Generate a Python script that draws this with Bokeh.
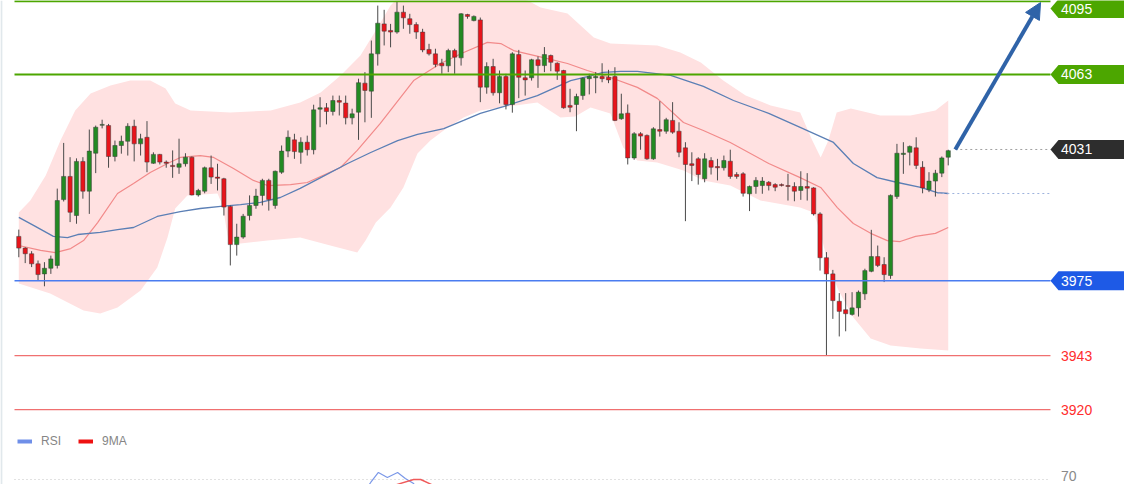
from bokeh.plotting import figure
from bokeh.models import Range1d, Legend, LegendItem, Arrow, NormalHead, Span
from bokeh.core.properties import value
from bokeh.embed import file_html
from bokeh.resources import INLINE

# ---------------- candle data (price) ----------------
opens = [3993.9, 3988.9, 3986.5, 3982.2, 3977.9, 3980.3, 3981.5, 4009.6, 4019.5, 4002.8,
         4025.9, 4013.2, 4029.4, 4041.3, 4041.2, 4028.0, 4032.7, 4034.5, 4040.9, 4033.4,
         4036.2, 4025.1, 4028.9, 4025.6, 4024.2, 4023.4, 4024.9, 4027.7, 4011.6, 4013.2,
         4023.2, 4019.2, 4018.5, 4006.7, 3990.4, 3993.6, 4002.8, 4007.1, 4011.4, 4017.8,
         4007.1, 4021.3, 4030.3, 4035.1, 4029.8, 4034.1, 4030.9, 4048.2, 4048.8, 4047.2,
         4051.9, 4050.8, 4044.5, 4046.9, 4059.3, 4055.9, 4071.8, 4084.6, 4081.8, 4081.1,
         4089.6, 4086.8, 4084.3, 4081.1, 4073.7, 4071.8, 4067.8, 4066.7, 4073.2, 4070.1,
         4088.6, 4086.0, 4086.3, 4057.6, 4066.4, 4055.2, 4062.1, 4050.2, 4071.5, 4061.6,
         4061.6, 4069.3, 4066.8, 4071.1, 4067.8, 4064.7, 4049.8, 4050.2, 4054.0, 4061.2,
         4061.6, 4062.1, 4061.8, 4062.1, 4044.1, 4046.5, 4027.4, 4037.7, 4037.0, 4027.0,
         4039.5, 4038.8, 4043.4, 4038.8, 4031.7, 4024.9, 4027.0, 4018.5, 4026.3, 4023.7,
         4023.2, 4026.0, 4020.3, 4020.6, 4012.1, 4015.2, 4015.6, 4017.0, 4016.0, 4016.0,
         4015.6, 4015.2, 4013.5, 4015.2, 4014.6, 4003.5, 3984.8, 3977.9, 3966.2, 3962.6,
         3960.6, 3963.4, 3969.4, 3979.0, 3985.3, 3981.9, 3977.2, 4010.9, 4028.9, 4029.8,
         4031.7, 4023.4, 4013.8, 4017.5, 4020.9, 4027.7]
highs = [3996.8, 3989.3, 3987.6, 3983.6, 3982.9, 3985.7, 4014.3, 4033.8, 4027.7, 4027.2,
         4027.7, 4039.5, 4041.2, 4043.7, 4041.9, 4034.8, 4036.9, 4042.2, 4043.7, 4037.7,
         4043.1, 4029.8, 4029.1, 4026.3, 4030.6, 4035.6, 4029.4, 4028.0, 4014.2, 4023.7,
         4028.4, 4024.9, 4018.9, 4007.1, 3999.3, 4003.5, 4011.4, 4014.2, 4018.5, 4018.5,
         4022.0, 4032.7, 4039.1, 4037.7, 4036.2, 4036.9, 4050.1, 4053.3, 4050.8, 4054.0,
         4054.0, 4054.0, 4048.4, 4061.2, 4064.0, 4077.5, 4092.4, 4090.6, 4084.6, 4094.2,
         4092.4, 4088.9, 4085.3, 4082.5, 4076.1, 4074.0, 4069.7, 4074.0, 4074.0, 4089.2,
         4088.9, 4088.2, 4087.3, 4068.2, 4069.7, 4064.7, 4063.3, 4072.5, 4073.5, 4064.7,
         4069.7, 4070.7, 4074.7, 4071.5, 4068.2, 4065.0, 4056.9, 4054.8, 4061.8, 4063.3,
         4064.0, 4067.8, 4065.0, 4066.1, 4054.8, 4050.2, 4038.4, 4038.4, 4037.4, 4040.5,
         4051.6, 4044.5, 4051.2, 4042.6, 4034.1, 4029.8, 4027.7, 4029.4, 4027.7, 4027.0,
         4028.4, 4030.9, 4021.3, 4021.3, 4015.6, 4019.2, 4019.2, 4017.5, 4016.6, 4016.5,
         4020.6, 4017.0, 4021.7, 4020.9, 4014.9, 4004.2, 3987.2, 3979.6, 3969.7, 3969.7,
         3970.1, 3970.8, 3980.1, 3996.7, 3990.0, 3985.0, 4011.8, 4033.4, 4034.1, 4032.7,
         4036.2, 4026.0, 4021.3, 4022.3, 4028.0, 4030.9]
lows = [3985.0, 3982.5, 3980.8, 3975.1, 3972.6, 3977.9, 3980.2, 4008.8, 4000.0, 3999.3,
        4010.0, 4003.5, 4020.9, 4040.0, 4023.2, 4025.9, 4029.2, 4028.4, 4025.9, 4028.4,
        4021.3, 4024.9, 4024.6, 4023.2, 4018.9, 4020.6, 4023.7, 4011.4, 4010.9, 4012.3,
        4016.3, 4013.5, 4002.8, 3981.5, 3985.7, 3992.9, 4000.7, 4005.7, 4007.1, 4004.9,
        4005.7, 4020.6, 4027.7, 4027.0, 4024.9, 4028.4, 4028.9, 4040.5, 4041.7, 4045.5,
        4045.5, 4041.7, 4041.7, 4035.1, 4042.6, 4044.5, 4066.8, 4075.4, 4074.6, 4080.4,
        4082.5, 4080.4, 4078.2, 4072.5, 4071.1, 4066.1, 4063.3, 4064.0, 4063.3, 4066.8,
        4086.8, 4085.7, 4051.2, 4054.8, 4054.0, 4050.7, 4048.1, 4046.7, 4052.9, 4054.0,
        4060.4, 4057.3, 4064.0, 4064.4, 4060.7, 4048.4, 4046.9, 4038.8, 4052.2, 4054.5,
        4055.0, 4059.7, 4059.3, 4043.1, 4043.7, 4024.6, 4026.6, 4030.9, 4026.6, 4026.6,
        4036.5, 4037.7, 4037.7, 4027.7, 4000.4, 4017.5, 4016.0, 4017.0, 4020.3, 4017.8,
        4022.0, 4018.5, 4018.5, 4010.9, 4004.7, 4012.1, 4012.1, 4013.5, 4013.2, 4015.2,
        4009.2, 4008.9, 4009.5, 4009.2, 4002.8, 3979.3, 3943.1, 3958.7, 3951.2, 3953.4,
        3960.1, 3959.7, 3966.8, 3978.6, 3980.8, 3974.4, 3975.8, 4009.9, 4020.6, 4024.2,
        4022.7, 4012.3, 4012.8, 4010.9, 4019.2, 4024.2]
closes = [3988.9, 3986.5, 3982.2, 3977.6, 3980.3, 3984.3, 4009.2, 4019.5, 4004.2, 4025.9,
          4013.2, 4030.3, 4040.5, 4041.7, 4028.0, 4032.7, 4034.5, 4040.9, 4033.4, 4035.6,
          4025.6, 4028.9, 4025.6, 4025.1, 4023.7, 4024.9, 4027.7, 4011.6, 4013.5, 4023.2,
          4019.2, 4018.7, 4006.4, 3990.4, 3993.6, 4002.5, 4007.1, 4011.1, 4017.8, 4009.6,
          4021.7, 4030.3, 4036.2, 4030.1, 4034.1, 4030.9, 4047.9, 4048.8, 4047.2, 4051.9,
          4051.2, 4044.5, 4046.2, 4059.5, 4056.2, 4071.8, 4084.9, 4081.5, 4081.1, 4089.6,
          4087.2, 4084.3, 4081.1, 4073.5, 4071.8, 4067.3, 4066.7, 4073.2, 4070.4, 4088.9,
          4087.8, 4087.8, 4057.6, 4066.4, 4055.2, 4062.1, 4050.2, 4071.8, 4061.8, 4060.7,
          4069.3, 4066.8, 4071.5, 4068.2, 4064.4, 4048.8, 4049.0, 4053.6, 4061.4, 4062.1,
          4062.1, 4061.2, 4060.7, 4043.4, 4046.2, 4027.4, 4037.7, 4036.7, 4027.0, 4039.8,
          4038.8, 4043.7, 4038.4, 4029.8, 4024.6, 4024.2, 4020.3, 4027.0, 4023.4, 4023.2,
          4026.3, 4019.5, 4019.5, 4012.3, 4015.2, 4017.8, 4017.5, 4015.6, 4014.9, 4015.6,
          4015.2, 4013.2, 4015.2, 4014.5, 4003.5, 3984.8, 3977.9, 3966.5, 3961.9, 3960.9,
          3963.4, 3970.1, 3979.3, 3985.3, 3981.5, 3977.6, 4011.4, 4029.4, 4029.4, 4032.3,
          4024.2, 4014.6, 4017.5, 4020.9, 4027.4, 4030.5]

# ---------------- overlays (bar index, price) ----------------
upper_x = [0, 1.8, 4.2, 6.5, 8.8, 11.2, 14.3, 17.4, 20.5, 22.9, 24.4, 26.8, 33.0, 39.3, 43.9,
           47.1, 50.2, 53.3, 55.7, 58.0, 59.5, 67.3, 75.2, 79.4, 81.4, 85.6, 89.7, 92.3, 99.6,
           103.2, 106.4, 109.9, 113.4, 117.3, 121.9, 123.8, 125.1, 126.3, 127.6, 129.8, 134.4,
           139.1, 143.0, 145]
upper_y = [4004.1, 4009.2, 4019.9, 4034.8, 4047.6, 4054.9, 4058.3, 4060.4, 4060.4, 4057.0,
           4050.6, 4047.6, 4046.8, 4047.6, 4051.1, 4055.3, 4062.6, 4071.1, 4081.8, 4092.4,
           4096.7, 4098.9, 4096.7, 4094.6, 4091.6, 4089.0, 4078.8, 4076.2, 4075.4, 4072.4,
           4068.1, 4060.4, 4054.0, 4049.8, 4046.8, 4034.8, 4027.6, 4034.8, 4046.8, 4048.5,
           4045.5, 4045.5, 4047.6, 4051.9]
lower_x = [0, 4.9, 10.1, 12.7, 15.4, 19.0, 21.6, 23.2, 24.4, 26.3, 31.0, 31.8, 32.7, 34.6,
           38.8, 43.9, 48.6, 52.8, 54.1, 55.7, 58.0, 60.0, 62.2, 64.2, 66.9, 69.4, 72.0, 75.2,
           80.9, 84.5, 86.8, 89.2, 92.3, 94.3, 96.5, 99.6, 103.7, 106.8, 111.0, 115.7, 121.9,
           124.0, 125.1, 126.3, 127.9, 130.2, 132.9, 136.0, 140.7, 145]
lower_y = [3973.8, 3969.5, 3962.3, 3961.0, 3963.6, 3970.8, 3980.6, 3993.4, 4005.8, 4011.4,
           4012.2, 4007.1, 3992.1, 3990.9, 3992.1, 3993.4, 3990.0, 3987.0, 3992.1, 3999.8,
           4006.2, 4014.8, 4029.3, 4034.8, 4040.4, 4044.6, 4047.6, 4048.9, 4051.0, 4044.6,
           4045.1, 4048.9, 4046.4, 4031.8, 4026.3, 4025.4, 4022.0, 4017.8, 4015.6, 4009.2,
           4006.2, 4004.1, 3995.1, 3981.5, 3970.8, 3959.3, 3950.3, 3947.3, 3946.1, 3945.2]
mid_x = [0, 3.4, 5.7, 8.1, 10.1, 12.3, 15.4, 17.9, 20.5, 23.2, 25.2, 28.3, 30.4, 33.5, 36.6,
         38.8, 42.4, 45.0, 50.2, 52.8, 56.4, 61.6, 65.8, 69.4, 73.1, 75.2, 77.2, 82.5, 85.6,
         88.7, 92.3, 96.5, 99.6, 103.7, 106.8, 111.0, 117.0, 121.9, 125.1, 127.7, 130.2,
         132.9, 135.5, 137.5, 139.9, 143.0, 145]
mid_y = [3990.0, 3987.9, 3987.0, 3988.7, 3992.1, 3999.8, 4012.2, 4016.5, 4021.2, 4025.0,
         4027.6, 4028.4, 4027.6, 4022.9, 4017.8, 4015.6, 4016.0, 4016.9, 4023.3, 4030.6,
         4042.1, 4060.4, 4067.7, 4072.4, 4076.7, 4076.2, 4073.2, 4069.8, 4067.7, 4064.7,
         4061.7, 4057.5, 4052.8, 4042.5, 4039.1, 4034.0, 4025.0, 4019.0, 4014.8, 4006.2,
         3999.4, 3995.2, 3992.1, 3991.7, 3993.9, 3995.2, 3997.7]
slow_x = [0, 2.3, 5.4, 7.6, 9.2, 12.7, 15.4, 17.9, 21.6, 25.2, 28.3, 31.5, 34.6, 37.7, 40.8,
          43.9, 47.1, 51.3, 54.9, 59.1, 62.2, 66.3, 69.4, 72.0, 75.6, 80.9, 86.1, 88.7, 91.2,
          93.9, 96.5, 101.7, 106.8, 111.5, 117.0, 121.9, 127.1, 130.2, 133.9, 137.1, 140.7,
          143.3, 145]
slow_y = [4002.0, 3998.6, 3993.9, 3993.4, 3994.7, 3995.6, 3996.8, 3997.7, 4002.4, 4004.5,
          4005.8, 4006.7, 4007.5, 4008.4, 4010.5, 4014.4, 4019.0, 4025.0, 4029.7, 4034.8,
          4037.4, 4039.9, 4043.4, 4046.4, 4049.3, 4054.0, 4060.4, 4062.1, 4063.9, 4064.3,
          4064.3, 4062.6, 4057.9, 4051.9, 4046.4, 4040.4, 4034.0, 4025.0, 4019.0, 4016.9,
          4014.8, 4012.6, 4012.2]

# ---------------- RSI panel ----------------
rsi_x = [0, 3.4, 4.9, 6.5, 7.8, 9.0, 9.6, 10.2, 10.9, 11.7, 12.7, 13.4, 13.8, 14.8, 15.9,
         16.3, 17.1, 17.7, 20.5, 28.3, 36.1, 43.9, 45.5, 46.3, 47.5, 48.3, 49.1, 49.7, 50.3,
         51.0, 51.7, 52.5, 53.0, 53.8, 54.9, 56.1, 57.5, 59.1, 60.3, 61.6, 62.4, 63.0, 64.2,
         66.6, 68.4, 68.9, 70.0, 70.9, 71.4, 72.0, 82.9, 98.5, 114.1, 125.1, 131.3, 134.4,
         135.5, 136.3, 138.0, 138.8, 139.3, 140.7, 142.2, 143.3, 144.3, 145]
rsi_y = [42.3, 47.7, 53.8, 58.5, 51.5, 57.7, 53.8, 49.2, 53.8, 60.0, 61.5, 60.0, 53.8, 50.0,
         55.4, 56.2, 56.2, 52.3, 46.2, 38.5, 42.3, 50.0, 53.8, 60.0, 60.0, 59.2, 60.0, 60.8,
         58.5, 53.8, 53.8, 55.4, 63.1, 60.0, 67.7, 75.4, 71.5, 75.4, 70.8, 66.9, 57.7, 53.8,
         46.2, 49.2, 53.8, 63.1, 63.1, 61.5, 53.8, 46.2, 38.5, 30.8, 30.8, 23.1, 38.5, 50.0,
         53.8, 61.5, 62.3, 56.2, 52.3, 50.0, 52.3, 54.6, 56.9, 56.9]
ma9_x = [0, 9.6, 13.5, 16.6, 19.0, 20.1, 23.7, 36.1, 43.9, 48.6, 51.7, 54.4, 58.5, 61.6,
         62.7, 64.7, 67.3, 68.9, 70.9, 75.2, 90.8, 106.4, 121.9, 131.3, 137.5, 142.2, 143.3, 145]
ma9_y = [44.6, 50.0, 54.6, 55.4, 55.0, 53.8, 49.2, 42.3, 47.7, 53.8, 56.2, 60.0, 65.4, 70.0,
         70.0, 65.4, 59.2, 55.4, 53.1, 49.2, 40.8, 34.6, 32.3, 36.9, 44.6, 52.3, 54.6, 56.2]

# ---------------- levels ----------------
box_levels = [4095, 4063, 4031, 3975]
box_colors = ["#4ca600", "#4ca600", "#2d2d2d", "#1e5ae6"]
plain_levels = [3943, 3920]
rsi_level = 70

GREEN = "#4ca600"
UP = "#238a23"
DOWN = "#e8141b"

Y_TOP = 4094.58
Y_BOT = 3888.01

p = figure(width=1124, height=484, output_backend="svg", toolbar_location=None,
           x_range=Range1d(-2.855, 172.50), y_range=Range1d(Y_BOT, Y_TOP),
           x_axis_location=None, y_axis_location=None, min_border=0,
           outline_line_color=None, background_fill_color="white",
           border_fill_color="white")
p.grid.visible = False
p.extra_y_ranges = {"rsi": Range1d(66.15, 438.46)}

# thin left frame line
p.add_layout(Span(location=-2.72, dimension="height", line_color="#e1e8ec", line_width=2))

# Bollinger band
p.patch(upper_x + lower_x[::-1], upper_y + lower_y[::-1],
        fill_color="#ffe1e1", line_color=None)
p.line(mid_x, mid_y, line_color="#f28a8a", line_width=1.2)
p.line(slow_x, slow_y, line_color="#5b7fb5", line_width=1.3)

# candles
idx = list(range(len(opens)))
up_color = [UP if c >= o else DOWN for o, c in zip(opens, closes)]
tops = [max(o, c) for o, c in zip(opens, closes)]
bots = [min(o, c) for o, c in zip(opens, closes)]
p.segment(idx, highs, idx, lows, line_color="#4a4a4a", line_width=1)
p.vbar(x=idx, width=0.66, top=tops, bottom=bots, fill_color=up_color,
       line_color="#3a3a3a", line_width=0.5)

# level lines
x_left = -0.67
x_tip = 160.95
for lv, col in zip(box_levels, box_colors):
    if col == "#2d2d2d":
        continue
    lw = 2 if col == GREEN else 1.6
    lc = col if col == GREEN else "#4a7cf0"
    p.line([x_left, x_tip], [min(lv, Y_TOP - 0.3)] * 2, line_color=lc, line_width=lw)
for lv in plain_levels:
    p.line([x_left, x_tip], [lv, lv], line_color="#f07070", line_width=1.2)

# dotted current level and slow MA level
p.line([146.1, x_tip], [box_levels[2], box_levels[2]], line_color="#a0a0a0",
       line_width=1, line_dash="2 3")
p.line([143.3, x_tip], [slow_y[-1], slow_y[-1]], line_color="#9db2dd",
       line_width=1, line_dash="2 3")

# label boxes (the top one is kept inside the frame)
half = 4.05
label_pos = [min(lv, Y_TOP - half + 0.6) for lv in box_levels]
xs, ys = [], []
for lv in label_pos:
    xs.append([x_tip, 162.2, 175.0, 175.0, 162.2])
    ys.append([lv, lv + half, lv + half, lv - half, lv - half])
p.patches(xs, ys, fill_color=box_colors, line_color=None)
p.text(x=[162.6] * len(box_levels), y=label_pos, text=[str(v) for v in box_levels],
       text_color="white", text_font=value("Liberation Sans"), text_font_size="14px",
       text_baseline="middle", text_align="left")
p.text(x=[162.6] * len(plain_levels), y=plain_levels, text=[str(v) for v in plain_levels],
       text_color="#ff2d2d", text_font=value("Liberation Sans"), text_font_size="14px",
       text_baseline="middle", text_align="left")

# arrow
p.add_layout(Arrow(end=NormalHead(size=16, fill_color="#2f63a8", line_color="#2f63a8"),
                   x_start=146.1, y_start=4031.0, x_end=159.4, y_end=4093.7,
                   line_color="#2f63a8", line_width=4))

# RSI panel
p.line([x_left, x_tip], [rsi_level, rsi_level], y_range_name="rsi",
       line_color="#c4c4c4", line_width=1, line_dash="1 3")
p.line([144.3, x_tip], [rsi_y[-1], rsi_y[-1]], y_range_name="rsi",
       line_color="#a8bce6", line_width=1, line_dash="2 3")
p.line(rsi_x, rsi_y, y_range_name="rsi", line_color="#7b98e8", line_width=1.2)
p.line(ma9_x, ma9_y, y_range_name="rsi", line_color="#f05a5a", line_width=1.4)
p.text(x=[162.6], y=[rsi_level], text=[str(rsi_level)], y_range_name="rsi",
       y_offset=-3, text_color="#8a8a8a", text_font=value("Liberation Sans"),
       text_font_size="14px", text_baseline="middle", text_align="left")

# legend swatches (drawn off-frame, only used by the legend)
leg_rsi = p.line([-20, -19], [0, 0], y_range_name="rsi", line_color="#6f8fe8", line_width=4)
leg_ma = p.line([-20, -19], [0, 0], y_range_name="rsi", line_color="#ee1111", line_width=4)
legend = Legend(items=[LegendItem(label="RSI", renderers=[leg_rsi]),
                       LegendItem(label="9MA", renderers=[leg_ma])],
                orientation="horizontal", location=(17, 36),
                glyph_width=15, glyph_height=14, label_height=14, label_standoff=9,
                spacing=17, padding=0, margin=0, border_line_color=None,
                background_fill_alpha=0, label_text_font_size="12px",
                label_text_color="#858585", label_text_font="Liberation Sans")
p.add_layout(legend)

open("out.html", "w").write(file_html(p, INLINE))
